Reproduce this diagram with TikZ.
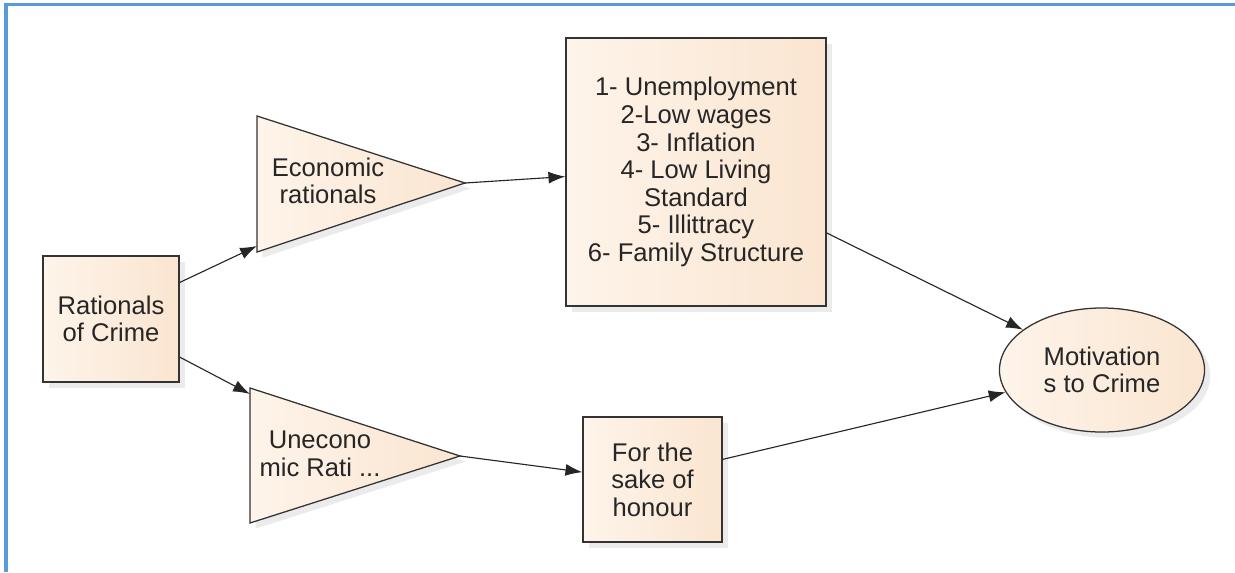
\documentclass[tikz,border=0pt]{standalone}
\usepackage{fontspec}
\setmainfont{Liberation Sans}
\usetikzlibrary{shapes.geometric,shadows,arrows.meta}

\definecolor{peach}{RGB}{250,229,208}
\definecolor{peachlight}{RGB}{254,244,234}
\definecolor{frameblue}{RGB}{91,155,213}

\tikzset{
  fig/.style={draw=black!80, line width=0.9pt, left color=peachlight, right color=peach,
    drop shadow={shadow xshift=4pt, shadow yshift=-4pt, fill=black, opacity=0.08}},
  block/.style={fig, rectangle, align=center, inner sep=2pt},
  txt/.style={align=center, text=black!85, font=\fontsize{18.2}{19.6}\selectfont},
  arr/.style={-{Latex[length=12pt,width=8.5pt]}, line width=0.8pt, black!85}
}

\begin{document}
\begin{tikzpicture}[x=0.025cm,y=-0.025cm]
\useasboundingbox (0,0) rectangle (1235,572);
\draw[frameblue, line width=2.4pt] (6,572)--(6,4.6)--(1235,4.6);

% boxes
\node[block, txt, minimum width=3.4cm, minimum height=3.15cm] (rat) at (111,319) {Rationals\\of Crime};
\node[block, txt, minimum width=6.5cm, minimum height=6.7cm] (big) at (696,172)
  {1- Unemployment\\2-Low wages\\3- Inflation\\4- Low Living\\Standard\\5- Illittracy\\6- Family Structure};
\node[block, txt, minimum width=3.475cm, minimum height=3.125cm] (sake) at (652.5,479.5) {For the\\sake of\\honour};
\node[fig, ellipse, txt, minimum width=5.125cm, minimum height=3.1cm] (mot) at (1102,370) {Motivation\\s to Crime};

% triangles
\coordinate (econ tip) at (465,183);
\coordinate (econ in) at (257,246);
\draw[fig] (257,116)--(econ tip)--(257,252)--cycle;
\node[txt] (econ) at (328,181) {Economic\\rationals};

\coordinate (unec tip) at (460,456);
\coordinate (unec in) at (250,394);
\draw[fig] (250,388)--(unec tip)--(250,523)--cycle;
\node[txt] (unec) at (320,454) {Unecono\\mic Rati ...};

% arrows
\draw[arr] (rat.28.5)--(econ in);
\draw[arr] (rat.-29)--(unec in);
\draw[arr] (econ tip)--(big.182.6);
\draw[arr] (unec tip)--(sake.174.7);
\draw[arr] (big.-25.1)--(mot.153);
\draw[arr] (sake.16.4)--(mot.193);
\end{tikzpicture}
\end{document}
